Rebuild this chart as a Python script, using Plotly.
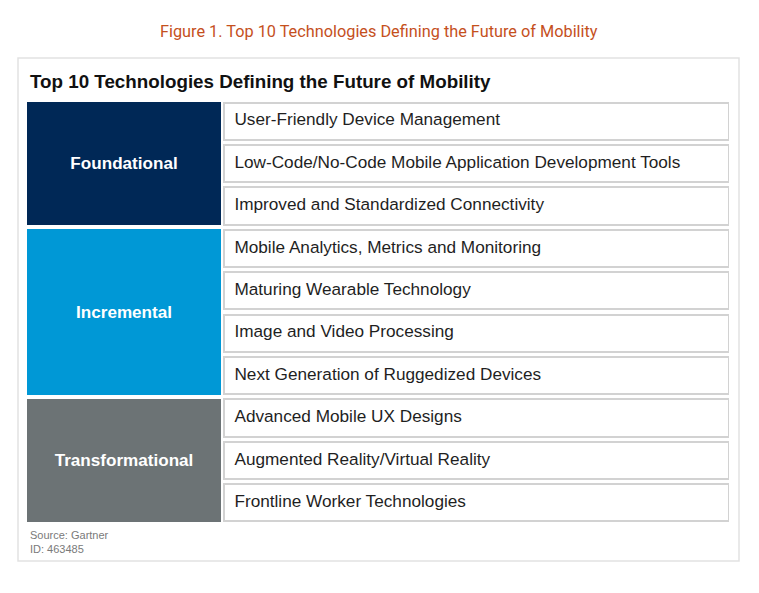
import plotly.graph_objects as go

# data
groups = ["Foundational", "Incremental", "Transformational"]
group_sizes = [3, 4, 3]
group_colors = ["#002856", "#0098d6", "#6c7375"]
technologies = [
    "User-Friendly Device Management",
    "Low-Code/No-Code Mobile Application Development Tools",
    "Improved and Standardized Connectivity",
    "Mobile Analytics, Metrics and Monitoring",
    "Maturing Wearable Technology",
    "Image and Video Processing",
    "Next Generation of Ruggedized Devices",
    "Advanced Mobile UX Designs",
    "Augmented Reality/Virtual Reality",
    "Frontline Worker Technologies",
]
fig_title = "Figure 1. Top 10 Technologies Defining the Future of Mobility"
chart_title = "Top 10 Technologies Defining the Future of Mobility"
source_lines = ["Source: Gartner", "ID: 463485"]

# layout (pixels); page body adds an 8px offset
OFF = 8
W, H = 759, 593
L, R, T, B = 27 - OFF, 729 - OFF, 100 - OFF, 524 - OFF
GROUP_W = 0.276   # share of plot width for group column
ITEM_X0 = 0.280
ROW_FILL = 0.88


def px(x):
    return (x - OFF - L) / (R - L)


def py(y):
    return (B - (y - OFF)) / (B - T)


rows = list(range(len(technologies)))
fig = go.Figure()

# item boxes
fig.add_trace(go.Bar(
    y=rows, x=[1 - ITEM_X0] * len(rows), base=ITEM_X0, orientation="h",
    width=ROW_FILL, marker=dict(color="white", line=dict(color="#d2d2d2", width=2)),
    hoverinfo="skip", showlegend=False,
))
fig.add_trace(go.Scatter(
    y=rows, x=[ITEM_X0 + 0.0155] * len(rows), mode="text", text=technologies,
    textposition="middle right",
    textfont=dict(family="Liberation Sans, Arial", size=17.2, color="#1f1f1f"),
    hoverinfo="skip", showlegend=False,
))

# group boxes
centers, start = [], 0
for n in group_sizes:
    centers.append(start + (n - 1) / 2)
    start += n
fig.add_trace(go.Bar(
    y=centers, x=[GROUP_W] * len(groups), base=0, orientation="h",
    width=[n - (1 - ROW_FILL) + 0.03 for n in group_sizes],
    marker=dict(color=group_colors, line=dict(width=0)),
    text=groups, textposition="inside", insidetextanchor="middle",
    textfont=dict(family="Liberation Sans, Arial", size=17.1, color="white", weight="bold"),
    constraintext="none", textangle=0,
    hoverinfo="skip", showlegend=False,
))

# outer frame
fig.add_shape(type="rect", xref="paper", yref="paper",
              x0=px(18), x1=px(739), y0=py(561), y1=py(58),
              line=dict(color="#e2e2e2", width=1.5), layer="below")

fig.add_annotation(text=fig_title, xref="paper", yref="paper",
                   x=px(379), y=py(32), showarrow=False, xanchor="center", yanchor="middle",
                   font=dict(family="Roboto", size=16.3, color="#c5501d"))
fig.add_annotation(text="<b>" + chart_title + "</b>", xref="paper", yref="paper",
                   x=px(28), y=py(81), showarrow=False, xanchor="left", yanchor="middle",
                   font=dict(family="Liberation Sans, Arial", size=18.8, color="#111111"))
fig.add_annotation(text="<br>".join(source_lines), xref="paper", yref="paper",
                   x=px(28), y=py(542), showarrow=False, xanchor="left", yanchor="middle",
                   align="left",
                   font=dict(family="Liberation Sans, Arial", size=11, color="#7a7a7a"))

fig.update_layout(
    width=W, height=H,
    margin=dict(l=L, r=W - R, t=T, b=H - B),
    paper_bgcolor="white", plot_bgcolor="white",
    barmode="overlay", bargap=0,
    xaxis=dict(range=[0, 1], visible=False, fixedrange=True),
    yaxis=dict(range=[len(rows) - 0.5, -0.5], visible=False, fixedrange=True),
)

fig.write_html("out.html")
